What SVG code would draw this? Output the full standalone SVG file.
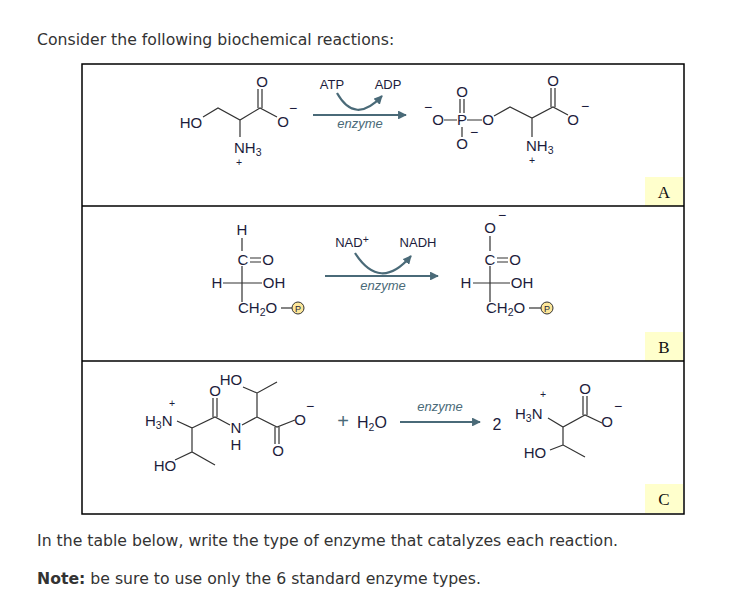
<svg xmlns="http://www.w3.org/2000/svg" width="742" height="606" viewBox="0 0 742 606">
<style>
.t{font-family:"DejaVu Sans",sans-serif;font-size:15.7px;fill:#333}
.a{font-family:"Liberation Sans",Arial,sans-serif;font-size:15px;fill:#1c1c3c}
.s{font-size:10.5px}
.m{font-family:"Liberation Sans",Arial,sans-serif;font-size:14px;fill:#1c1c3c}
.e{font-family:"Liberation Sans",Arial,sans-serif;font-size:13px;font-style:italic;fill:#4a6a78}
.r{font-family:"Liberation Sans",Arial,sans-serif;font-size:13px;fill:#1c1c3c}
.b{stroke:#333;stroke-width:1.2;fill:none}
.ar{stroke:#4a6a78;stroke-width:2.2;fill:none}
.lab{font-family:"Liberation Serif",serif;font-size:17px;fill:#111}
.lb{fill:#ffffcc}
.p{fill:#fde79a;stroke:#333;stroke-width:1}
</style>
<defs>
<marker id="h" viewBox="0 0 10 10" refX="9" refY="5" markerWidth="4" markerHeight="4" orient="auto"><path d="M0,0L10,5L0,10z" fill="#4a6a78"/></marker>
</defs>
<rect width="742" height="606" fill="#fff"/>
<text class="t" x="37" y="45">Consider the following biochemical reactions:</text>
<g id="table">
<rect class="lb" x="645" y="177" width="38" height="29"/>
<rect class="lb" x="645" y="332" width="38" height="29"/>
<rect class="lb" x="645" y="484" width="38" height="29"/>
<rect x="82" y="64" width="602" height="450" fill="none" stroke="#000" stroke-width="1.5"/>
<line x1="82" y1="206" x2="684" y2="206" stroke="#000" stroke-width="1.5"/>
<line x1="82" y1="361" x2="684" y2="361" stroke="#000" stroke-width="1.5"/>
<text class="lab" x="664" y="198" text-anchor="middle">A</text>
<text class="lab" x="664" y="353" text-anchor="middle">B</text>
<text class="lab" x="664" y="505" text-anchor="middle">C</text>
</g>
<g id="reactionA">
<text class="a" x="191" y="128" text-anchor="middle">HO</text>
<path class="b" d="M203,117L218,108L240,120L260,108L277,117M240,120V137"/>
<path class="b" d="M258,108V89M262,108V89"/>
<text class="a" x="262" y="87" text-anchor="middle">O</text>
<text class="a" x="283" y="127" text-anchor="middle">O</text>
<text class="m" x="293" y="113" text-anchor="middle">−</text>
<text class="a" x="234" y="153">NH<tspan class="s" dy="3">3</tspan></text>
<text class="a s" x="239" y="166" text-anchor="middle">+</text>
<text class="r" x="332" y="89" text-anchor="middle">ATP</text>
<text class="r" x="388" y="89" text-anchor="middle">ADP</text>
<line class="ar" x1="313" y1="115" x2="406" y2="115" marker-end="url(#h)"/>
<path class="ar" d="M337,93Q355,125 382,96" marker-end="url(#h)"/>
<text class="e" x="360" y="128" text-anchor="middle">enzyme</text>
<text class="m" x="428" y="112" text-anchor="middle">−</text>
<text class="a" x="438" y="125" text-anchor="middle">O</text>
<path class="b" d="M444,120H457M467,120H482M462,127V137"/>
<path class="b" d="M460,113V99M464,113V99"/>
<text class="a" x="462" y="125" text-anchor="middle">P</text>
<text class="a" x="462" y="97" text-anchor="middle">O</text>
<text class="a" x="462" y="149" text-anchor="middle">O</text>
<text class="m" x="474" y="137" text-anchor="middle">−</text>
<text class="a" x="488" y="125" text-anchor="middle">O</text>
<path class="b" d="M494,116L510,107L532,118L553,107L568,115M532,118V137"/>
<path class="b" d="M551,107V88M555,107V88"/>
<text class="a" x="553" y="86" text-anchor="middle">O</text>
<text class="a" x="573" y="125" text-anchor="middle">O</text>
<text class="m" x="585" y="111" text-anchor="middle">−</text>
<text class="a" x="526" y="151">NH<tspan class="s" dy="3">3</tspan></text>
<text class="a s" x="532" y="164" text-anchor="middle">+</text>
</g>
<g id="reactionB">
<text class="a" x="242" y="235" text-anchor="middle">H</text>
<path class="b" d="M242,238V251M242,266V302M223,283H262"/>
<text class="a" x="243" y="265" text-anchor="middle">C</text>
<path class="b" d="M250,258H261M250,262H261"/>
<text class="a" x="268" y="265" text-anchor="middle">O</text>
<text class="a" x="217" y="288" text-anchor="middle">H</text>
<text class="a" x="274" y="288" text-anchor="middle">OH</text>
<text class="a" x="238" y="313">CH<tspan class="s" dy="3">2</tspan><tspan dy="-3">O</tspan></text>
<line class="b" x1="281" y1="308" x2="292" y2="308"/>
<circle class="p" cx="298" cy="308" r="6"/>
<text class="a" x="298" y="311.5" text-anchor="middle" style="font-size:9px">P</text>
<text class="r" x="352" y="247" text-anchor="middle">NAD<tspan class="s" dy="-4">+</tspan></text>
<text class="r" x="418" y="247" text-anchor="middle">NADH</text>
<line class="ar" x1="325" y1="276" x2="438" y2="276" marker-end="url(#h)"/>
<path class="ar" d="M355,253Q380,292 411,256" marker-end="url(#h)"/>
<text class="e" x="383" y="290" text-anchor="middle">enzyme</text>
<text class="a" x="490" y="233" text-anchor="middle">O</text>
<text class="m" x="502" y="220" text-anchor="middle">−</text>
<path class="b" d="M490,236V251M490,266V302M473,283H510"/>
<text class="a" x="490" y="265" text-anchor="middle">C</text>
<path class="b" d="M497,258H508M497,262H508"/>
<text class="a" x="515" y="265" text-anchor="middle">O</text>
<text class="a" x="466" y="288" text-anchor="middle">H</text>
<text class="a" x="522" y="288" text-anchor="middle">OH</text>
<text class="a" x="486" y="313">CH<tspan class="s" dy="3">2</tspan><tspan dy="-3">O</tspan></text>
<line class="b" x1="529" y1="308" x2="541" y2="308"/>
<circle class="p" cx="547" cy="308" r="6"/>
<text class="a" x="547" y="311.5" text-anchor="middle" style="font-size:9px">P</text>
</g>
<g id="reactionC">
<text class="a" x="145" y="426">H<tspan class="s" dy="3">3</tspan><tspan dy="-3">N</tspan></text>
<text class="a s" x="172" y="407" text-anchor="middle">+</text>
<path class="b" d="M177,421L192,428V452M175,460L192,452L215,465M192,428L215,417L230,425M242,425L257,417V393L277,382M243,387L257,393M257,417L277,427L295,420"/>
<path class="b" d="M213,417V398M217,417V398"/>
<text class="a" x="215" y="396" text-anchor="middle">O</text>
<text class="a" x="236" y="433" text-anchor="middle">N</text>
<text class="a" x="236" y="450" text-anchor="middle">H</text>
<text class="a" x="231" y="385" text-anchor="middle">HO</text>
<text class="a" x="165" y="471" text-anchor="middle">HO</text>
<path class="b" d="M275,427V444M279,427V444"/>
<text class="a" x="278" y="456" text-anchor="middle">O</text>
<text class="a" x="300" y="425" text-anchor="middle">O</text>
<text class="m" x="310" y="411" text-anchor="middle">−</text>
<text x="343" y="428" text-anchor="middle" style="font-family:'Liberation Sans',sans-serif;font-size:20px;fill:#4a6a78">+</text>
<text class="a" x="357" y="428" style="font-size:16px">H<tspan class="s" dy="3">2</tspan><tspan dy="-3">O</tspan></text>
<line class="ar" x1="400" y1="422" x2="480" y2="422" marker-end="url(#h)"/>
<text class="e" x="440" y="411" text-anchor="middle">enzyme</text>
<text class="a" x="497" y="430" text-anchor="middle" style="font-size:16px">2</text>
<text class="a" x="515" y="419">H<tspan class="s" dy="3">3</tspan><tspan dy="-3">N</tspan></text>
<text class="a s" x="543" y="398" text-anchor="middle">+</text>
<path class="b" d="M548,418L563,427L585,415L602,423M563,427V445L585,457M550,450L563,445"/>
<path class="b" d="M583,415V396M587,415V396"/>
<text class="a" x="585" y="394" text-anchor="middle">O</text>
<text class="a" x="607" y="427" text-anchor="middle">O</text>
<text class="m" x="618" y="411" text-anchor="middle">−</text>
<text class="a" x="535" y="458" text-anchor="middle">HO</text>
</g>
<text class="t" x="37" y="546">In the table below, write the type of enzyme that catalyzes each reaction.</text>
<text class="t" x="37" y="584"><tspan font-weight="bold">Note:</tspan> be sure to use only the 6 standard enzyme types.</text>
</svg>
